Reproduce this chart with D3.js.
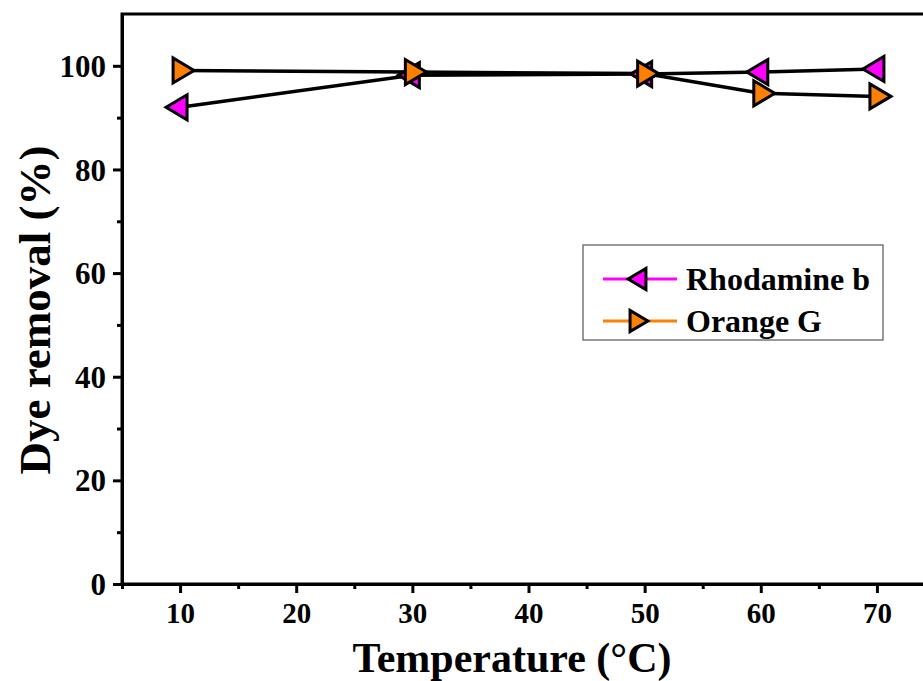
<!DOCTYPE html>
<html>
<head>
<meta charset="utf-8">
<script src="https://cdn.jsdelivr.net/npm/d3@7"></script>
<style>
  body { margin: 0; background: #fff; }
  text { font-family: "Liberation Serif", "Times New Roman", serif; font-weight: bold; }
</style>
</head>
<body>
<script>
const temps = [10, 30, 50, 60, 70];
const rhodamine = [92.0, 98.2, 98.4, 98.8, 99.4];
const orangeG = [99.1, 98.8, 98.5, 94.7, 94.1];
const xTicks = [10, 20, 30, 40, 50, 60, 70];
const yTicks = [0, 20, 40, 60, 80, 100];

const m = { width: 923, height: 681 }

let svg = d3.select("body")
  .append("svg")
  .attr("width", m.width)
  .attr("height", m.height);

let x = d3.scaleLinear().domain([5, 75]).range([122, 935]);
let y = d3.scaleLinear().domain([0, 110]).range([584, 14]);

// frame
svg.append("rect")
  .attr("x", x(5)).attr("y", y(110))
  .attr("width", x(75) - x(5)).attr("height", y(0) - y(110))
  .attr("fill", "none").attr("stroke", "#000").attr("stroke-width", 3);

// x axis
let xAxis = svg.append("g").attr("transform", `translate(0,${y(0)})`)
  .call(d3.axisBottom(x).tickValues(xTicks).tickSize(9).tickSizeOuter(0).tickPadding(9));
svg.append("g").attr("transform", `translate(0,${y(0)})`)
  .call(d3.axisBottom(x).tickValues(d3.range(5, 80, 10)).tickSize(5).tickFormat(""))
  .call(g => g.select(".domain").remove());

// y axis
let yAxis = svg.append("g").attr("transform", `translate(${x(5)},0)`)
  .call(d3.axisLeft(y).tickValues(yTicks).tickSize(9).tickSizeOuter(0).tickPadding(7));
svg.append("g").attr("transform", `translate(${x(5)},0)`)
  .call(d3.axisLeft(y).tickValues(d3.range(10, 110, 20)).tickSize(5).tickFormat(""))
  .call(g => g.select(".domain").remove());

svg.selectAll(".domain").attr("stroke-width", 3);
svg.selectAll(".tick line").attr("stroke-width", 3);
xAxis.selectAll(".tick text").attr("font-size", 29).attr("font-family", "Liberation Serif").attr("font-weight", "bold");
yAxis.selectAll(".tick text").attr("font-size", 31).attr("font-family", "Liberation Serif").attr("font-weight", "bold").attr("dy", "0.34em");

// axis titles
svg.append("text")
  .attr("x", 512).attr("y", 672)
  .attr("text-anchor", "middle").attr("font-size", 42)
  .text("Temperature (°C)");
svg.append("text")
  .attr("transform", "translate(50,310) rotate(-90)")
  .attr("text-anchor", "middle").attr("font-size", 45)
  .text("Dye removal (%)");

// triangles, centred on centroid
const leftTri = "M-14,0 L7,-12.5 L7,12.5 Z";
const rightTri = "M14,0 L-7,-12.5 L-7,12.5 Z";

let series = [
  { name: "Rhodamine b", values: rhodamine, color: "#ff00ff", shape: leftTri },
  { name: "Orange G", values: orangeG, color: "#ff8000", shape: rightTri }
];

let line = d3.line().x(d => x(d[0])).y(d => y(d[1]));

series.forEach(s => {
  svg.append("path")
    .attr("d", line(temps.map((t, i) => [t, s.values[i]])))
    .attr("fill", "none").attr("stroke", "#000").attr("stroke-width", 3.5);
});
series.forEach(s => {
  svg.append("g").selectAll("path")
    .data(temps)
    .enter()
    .append("path")
    .attr("transform", (t, i) => `translate(${x(t)},${y(s.values[i])})`)
    .attr("d", s.shape)
    .attr("fill", s.color).attr("stroke", "#000").attr("stroke-width", 3)
    .attr("stroke-linejoin", "miter");
});

// legend
let legend = svg.append("g");
legend.append("rect")
  .attr("x", 583).attr("y", 245).attr("width", 300).attr("height", 95)
  .attr("fill", "#fff").attr("stroke", "#555").attr("stroke-width", 1.2);
series.forEach((s, i) => {
  let ly = 279 + i * 42;
  legend.append("line").attr("x1", 603).attr("x2", 677).attr("y1", ly).attr("y2", ly)
    .attr("stroke", s.color).attr("stroke-width", 3);
  legend.append("path")
    .attr("transform", `translate(${i === 0 ? 640 : 636},${ly}) scale(0.85)`)
    .attr("d", s.shape)
    .attr("fill", s.color).attr("stroke", "#000").attr("stroke-width", 3.5);
  legend.append("text")
    .attr("x", 686).attr("y", ly + 11)
    .attr("font-size", 32)
    .text(s.name);
});
</script>
</body>
</html>
